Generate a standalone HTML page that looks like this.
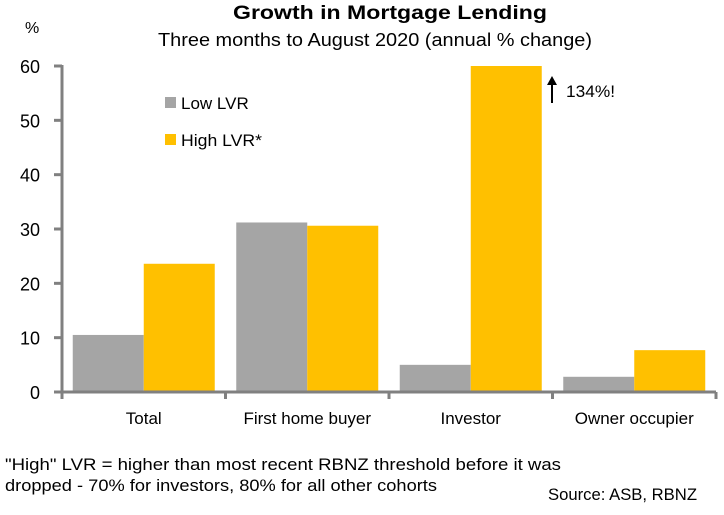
<!DOCTYPE html>
<html><head><meta charset="utf-8"><style>
body{margin:0;background:#fff;width:724px;height:510px;overflow:hidden;font-family:"Liberation Sans",sans-serif;}
svg text{font-family:"Liberation Sans",sans-serif;fill:#000;}
</style></head><body>
<svg width="724" height="510" xmlns="http://www.w3.org/2000/svg">
<text x="390" y="19" font-size="19" font-weight="bold" text-anchor="middle" textLength="314" lengthAdjust="spacingAndGlyphs">Growth in Mortgage Lending</text>
<text x="375" y="46" font-size="18" text-anchor="middle" textLength="434" lengthAdjust="spacingAndGlyphs">Three months to August 2020 (annual % change)</text>
<text x="25" y="33" font-size="16">%</text>
<g id="plot"></g>
<g>
<rect x="165" y="97" width="11" height="11" fill="#a5a5a5"/>
<text x="181" y="109" font-size="17">Low LVR</text>
<rect x="165" y="134" width="11" height="11" fill="#ffc000"/>
<text x="181" y="146" font-size="17" textLength="81" lengthAdjust="spacingAndGlyphs">High LVR*</text>
</g>
<g>
<line x1="552" y1="103" x2="552" y2="83" stroke="#000" stroke-width="2"/>
<polygon points="547,85 557,85 552,76" fill="#000"/>
<text x="566" y="97" font-size="17" textLength="49" lengthAdjust="spacingAndGlyphs">134%!</text>
</g>
<text x="5" y="470" font-size="17" textLength="556" lengthAdjust="spacingAndGlyphs">"High" LVR = higher than most recent RBNZ threshold before it was</text>
<text x="5" y="491" font-size="17" textLength="432" lengthAdjust="spacingAndGlyphs">dropped - 70% for investors, 80% for all other cohorts</text>
<text x="697" y="500" font-size="17" text-anchor="end" textLength="149" lengthAdjust="spacingAndGlyphs">Source: ASB, RBNZ</text>
</svg>
<script>
const categories=["Total","First home buyer","Investor","Owner occupier"];
const lowLVR=[10.5,31.2,5.0,2.8];
const highLVR=[23.6,30.6,134,7.7];
const yTicks=[0,10,20,30,40,50,60];
const NS="http://www.w3.org/2000/svg";
const g=document.getElementById('plot');
const x0=62,x1=716,yBase=392,yTop=66,yMax=60;
const y=v=>yBase-(Math.min(v,yMax)/yMax)*(yBase-yTop);
const catW=(x1-x0)/categories.length;
function mk(tag,attrs){const e=document.createElementNS(NS,tag);for(const k in attrs)e.setAttribute(k,attrs[k]);g.appendChild(e);return e;}
const bw=71;
categories.forEach((c,i)=>{
  const cx=x0+catW*(i+0.5);
  let r=mk('rect',{x:cx-bw,y:y(lowLVR[i]),width:bw,height:yBase-y(lowLVR[i]),fill:'#a5a5a5'});
  
  
  r=mk('rect',{x:cx,y:y(highLVR[i]),width:bw,height:yBase-y(highLVR[i]),fill:'#ffc000'});
  
  
  const t=mk('text',{x:cx,y:424,'font-size':17,'text-anchor':'middle'});
  t.textContent=c;
  
  
});
yTicks.forEach(v=>{
  const l=mk('line',{x1:54,x2:x0,y1:y(v),y2:y(v),stroke:'#808080','stroke-width':3});
  
  
  const t=mk('text',{x:40,y:y(v)+7,'font-size':18,'text-anchor':'end'});
  t.textContent=v;
  
  
});
for(let i=0;i<=categories.length;i++){
  const xx=x0+catW*i;
  const l=mk('line',{x1:xx,x2:xx,y1:yBase,y2:399,stroke:'#808080','stroke-width':3});
  
  
}
let ax=mk('line',{x1:x0,x2:x0,y1:yTop-1,y2:yBase+1,stroke:'#808080','stroke-width':3});


ax=mk('line',{x1:x0,x2:x1,y1:yBase,y2:yBase,stroke:'#808080','stroke-width':3});


</script>
</body></html>
